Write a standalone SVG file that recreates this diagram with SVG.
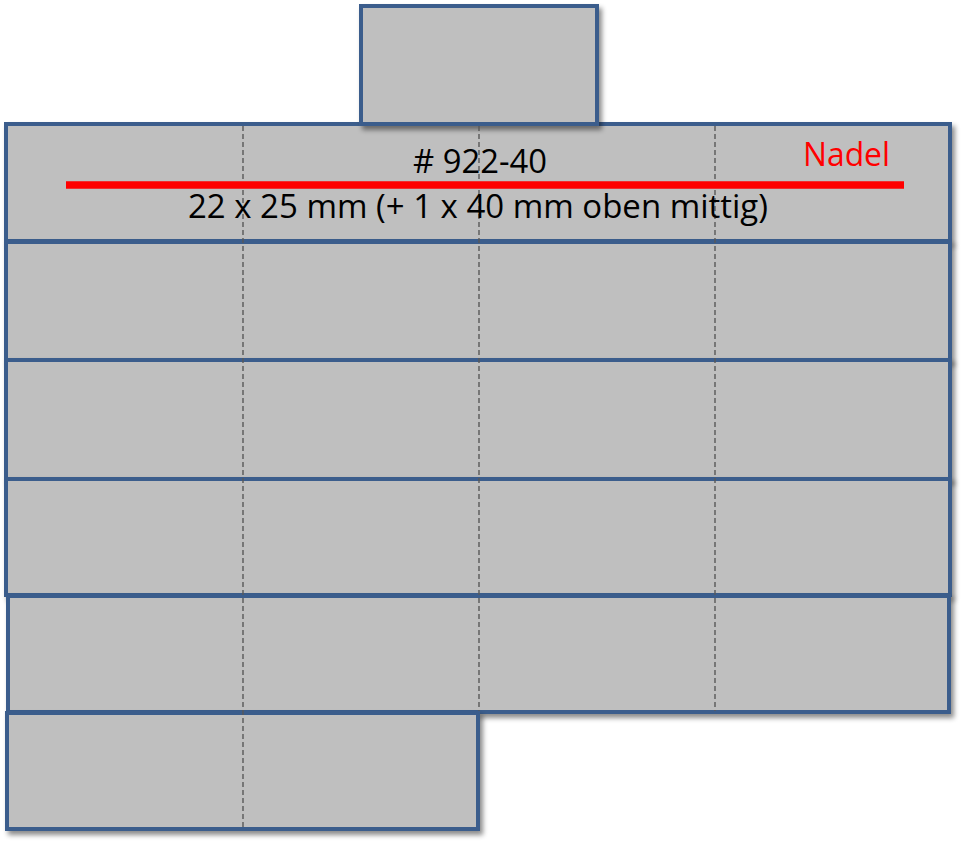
<svg xmlns="http://www.w3.org/2000/svg" width="966" height="845" viewBox="0 0 966 845">
<defs>
<filter id="sh" x="-5%" y="-5%" width="115%" height="130%">
<feDropShadow dx="3" dy="4" stdDeviation="2.5" flood-color="#000" flood-opacity="0.45"/>
</filter>
<style>
.cell{fill:#bfbfbf;stroke:#3b5d8c;stroke-width:4;filter:url(#sh)}
.dash{stroke:#595959;stroke-width:1.4;stroke-dasharray:5 3;fill:none}
.t{font-family:"Open Sans","Noto Sans","Liberation Sans",sans-serif;font-size:32px;fill:#000}
</style>
</defs>
<rect width="966" height="845" fill="#fff"/>
<g id="row1"><rect class="cell" x="6" y="124" width="944" height="117"/></g>
<g id="row2"><rect class="cell" x="6" y="242" width="944" height="118"/></g>
<g id="row3"><rect class="cell" x="6" y="360" width="944" height="119"/></g>
<g id="row4"><rect class="cell" x="6" y="479" width="944" height="116"/></g>
<g id="row5"><rect class="cell" x="8" y="596" width="941" height="116"/></g>
<g id="row6"><rect class="cell" x="7" y="713" width="471" height="116"/></g>
<g id="tab"><rect class="cell" x="361" y="6" width="236" height="118"/></g>
<g id="folds">
<line class="dash" x1="243" y1="126" x2="243" y2="828"/>
<line class="dash" x1="479" y1="126" x2="479" y2="711"/>
<line class="dash" x1="715" y1="126" x2="715" y2="711"/>
</g>
<g id="needle"><line x1="66" y1="185" x2="904" y2="185" stroke="#ff0000" stroke-width="7.5"/></g>
<g id="labels">
<text class="t" x="413" y="173" textLength="134" lengthAdjust="spacingAndGlyphs"># 922-40</text>
<text class="t" x="188" y="218" textLength="580" lengthAdjust="spacingAndGlyphs">22 x 25 mm (+ 1 x 40 mm oben mittig)</text>
<text class="t" x="803" y="166" textLength="87" lengthAdjust="spacingAndGlyphs" style="fill:#ff0000;font-size:33px">Nadel</text>
</g>
</svg>
